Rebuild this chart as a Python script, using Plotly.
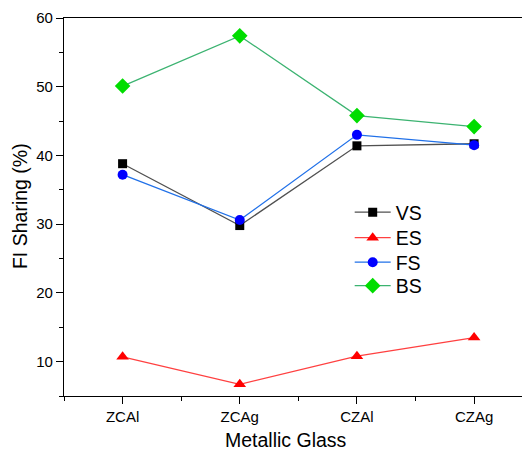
import plotly.graph_objects as go

categories = ["ZCAl", "ZCAg", "CZAl", "CZAg"]
vs = [38.8, 29.8, 41.4, 41.7]
es = [10.7, 6.7, 10.8, 13.5]
fs = [37.2, 30.6, 43.0, 41.5]
bs = [50.1, 57.4, 45.8, 44.2]

xpos = list(range(len(categories)))

series = [
    ("VS", vs, "#505050", "#000000", "square", 9),
    ("ES", es, "#ff4040", "#ff0000", "triangle-up", 11),
    ("FS", fs, "#2070e8", "#0000ff", "circle", 10),
    ("BS", bs, "#3cb371", "#00dd00", "diamond", 12),
]

font = "Liberation Sans, Arial, sans-serif"
# page body has an 8px margin, so the figure is sized 522x445
L, T, B = 55.5, 10, 57
W, H = 522, 445
pw = W - L
ph = H - T - B

legend_ids = ["legend", "legend2", "legend3", "legend4"]
legend_centers = [211, 236.5, 261, 284.5]  # page pixels of each legend row

fig = go.Figure()
legend_layout = {}
for (name, vals, lc, mc, sym, sz), lid, cy in zip(series, legend_ids, legend_centers):
    fig.add_trace(go.Scatter(
        x=xpos, y=vals, name=name, mode="lines+markers", legend=lid,
        line=dict(color=lc, width=1.3),
        marker=dict(color=mc, symbol=sym, size=sz, line=dict(width=0)),
    ))
    top_fig = cy - 8 - 18
    legend_layout[lid] = dict(
        x=(341.5 - L) / pw, y=(H - B - top_fig) / ph, xanchor="left", yanchor="top",
        font=dict(size=19.5, family=font), bgcolor="rgba(0,0,0,0)", itemwidth=36,
    )

fig.update_layout(
    width=W, height=H,
    margin=dict(l=L, r=0, t=T, b=B, autoexpand=False),
    plot_bgcolor="white", paper_bgcolor="white",
    font=dict(family=font, color="black", size=15),
    showlegend=True,
    xaxis=dict(
        range=[-0.5, 3.477], tickmode="array", tickvals=xpos, ticktext=categories,
        ticks="outside", ticklen=7, tickwidth=1.2, tickcolor="black",
        showline=True, linecolor="black", linewidth=1.3, mirror=True,
        showgrid=False, zeroline=False,
        tickfont=dict(size=15),
        minor=dict(tickmode="array", tickvals=[-0.5, 0.5, 1.5, 2.5, 3.5],
                   ticks="outside", ticklen=4, tickwidth=1.2, tickcolor="black", showgrid=False),
    ),
    yaxis=dict(
        range=[5, 60], tickmode="linear", tick0=0, dtick=10,
        ticks="outside", ticklen=7, tickwidth=1.2, tickcolor="black",
        showline=True, linecolor="black", linewidth=1.3,
        showgrid=False, zeroline=False,
        tickfont=dict(size=15),
        minor=dict(tick0=5, dtick=10, ticks="outside", ticklen=4, tickwidth=1.2,
                   tickcolor="black", showgrid=False),
    ),
    annotations=[
        dict(text="Metallic Glass", xref="paper", yref="paper",
             x=(286 - 63.5) / 466.5, y=-(440 - 396) / 378,
             xanchor="center", yanchor="middle", showarrow=False,
             font=dict(size=19.5, family=font)),
        dict(text="FI Sharing (%)", xref="paper", yref="paper",
             x=-(63.5 - 19.5) / 466.5, y=(396 - 206) / 378,
             xanchor="center", yanchor="middle", showarrow=False, textangle=-90,
             font=dict(size=19.5, family=font)),
    ],
    **legend_layout,
)

fig.write_html("out.html")
